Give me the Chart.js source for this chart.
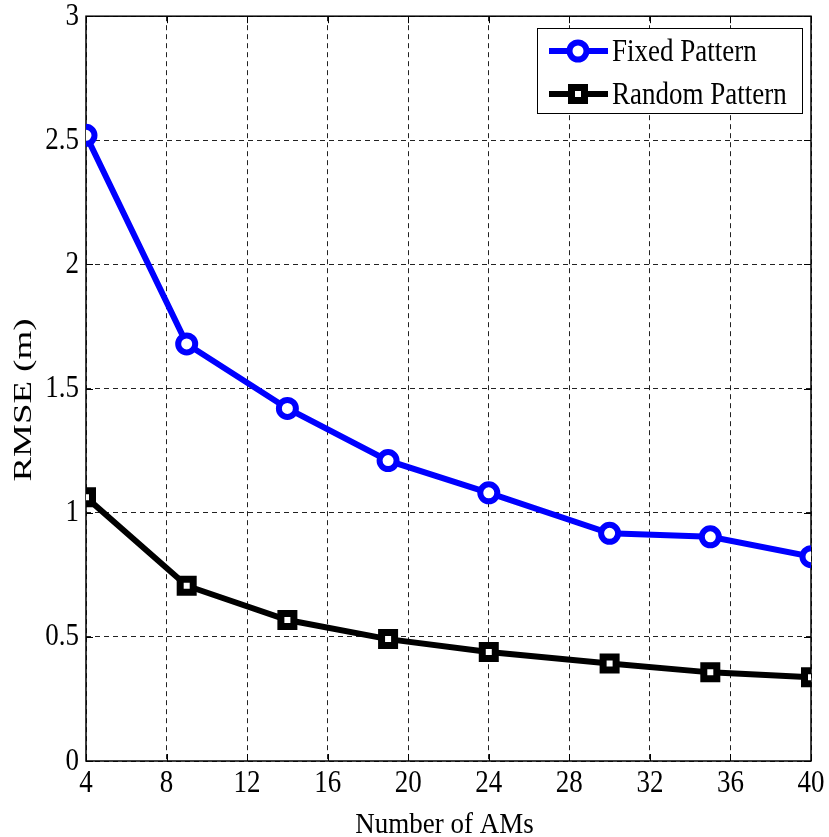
<!DOCTYPE html>
<html>
<head>
<meta charset="utf-8">
<script src="https://cdn.jsdelivr.net/npm/chart.js@4.4.0/dist/chart.umd.min.js"></script>
<style>
html, body { margin: 0; padding: 0; background: #fff; }
#wrap { width: 829px; height: 837px; }
</style>
</head>
<body>
<div id="wrap"><canvas id="chart_rmse"></canvas></div>
<script>
// values
var numberOfAMs = [4, 9, 14, 19, 24, 30, 35, 40];
var fixedPattern = [2.52, 1.68, 1.42, 1.21, 1.08, 0.917, 0.903, 0.823];
var randomPattern = [1.062, 0.706, 0.568, 0.491, 0.439, 0.393, 0.357, 0.337];
var seriesLabels = ['Fixed Pattern', 'Random Pattern'];
var xTickLabels = ['4', '8', '12', '16', '20', '24', '28', '32', '36', '40'];
var yTickLabels = ['0', '0.5', '1', '1.5', '2', '2.5', '3'];
var xTitle = 'Number of AMs';
var yTitle = 'RMSE (m)';

var serif = "'Liberation Serif', 'Times New Roman', serif";
// the source figure has its text stretched vertically
var stretch = 1.2;

function toPoints(ys) {
    return numberOfAMs.map(function (x, i) { return { x: x, y: ys[i] }; });
}

function tallText(ctx, text, x, y, align, size, sy, angle) {
    ctx.save();
    ctx.translate(x, y);
    if (angle) ctx.rotate(angle);
    ctx.scale(angle ? sy : 1, angle ? 1 : sy);
    ctx.font = size + 'px ' + serif;
    ctx.fillStyle = '#000';
    ctx.textAlign = align;
    ctx.textBaseline = 'middle';
    ctx.fillText(text, 0, 0);
    ctx.restore();
}

var frameAndLabels = {
    id: 'frameAndLabels',
    beforeDatasetsDraw: function (chart) {
        var ctx = chart.ctx, a = chart.chartArea;
        var xs = chart.scales.x, ys = chart.scales.y;
        ctx.save();
        ctx.setLineDash([]);
        ctx.strokeStyle = '#000';
        ctx.lineWidth = 1;
        xs.ticks.forEach(function (t) {
            var px = Math.round(xs.getPixelForValue(t.value)) + 0.5;
            ctx.beginPath();
            ctx.moveTo(px, a.top); ctx.lineTo(px, a.top + 7);
            ctx.moveTo(px, a.bottom); ctx.lineTo(px, a.bottom - 7);
            ctx.stroke();
            tallText(ctx, t.label, xs.getPixelForValue(t.value), a.bottom + 22, 'center', 27, stretch);
        });
        ys.ticks.forEach(function (t) {
            var py = Math.round(ys.getPixelForValue(t.value)) + 0.5;
            ctx.beginPath();
            ctx.moveTo(a.left, py); ctx.lineTo(a.left + 7, py);
            ctx.moveTo(a.right, py); ctx.lineTo(a.right - 7, py);
            ctx.stroke();
            tallText(ctx, t.label, a.left - 7, ys.getPixelForValue(t.value), 'right', 27, stretch);
        });
        ctx.lineWidth = 1.5;
        ctx.strokeRect(a.left, a.top, a.right - a.left, a.bottom - a.top);
        tallText(ctx, xTitle, (a.left + a.right) / 2 - 4, 825, 'center', 27, 1.12);
        tallText(ctx, yTitle, 24, 400, 'center', 26, 1.42, -Math.PI / 2);
        ctx.restore();
    }
};

var boxLegend = {
    id: 'boxLegend',
    afterDraw: function (chart) {
        var ctx = chart.ctx;
        var bx = 537, by = 28, bw = 265, bh = 85;
        ctx.save();
        ctx.setLineDash([]);
        ctx.fillStyle = '#fff';
        ctx.fillRect(bx, by, bw, bh);
        ctx.strokeStyle = '#000';
        ctx.lineWidth = 1;
        ctx.strokeRect(bx + 0.5, by + 0.5, bw, bh);
        chart.data.datasets.forEach(function (ds, i) {
            var cy = by + 23 + i * 43;
            ctx.strokeStyle = ds.borderColor;
            ctx.lineWidth = ds.borderWidth;
            ctx.beginPath();
            ctx.moveTo(549, cy); ctx.lineTo(608, cy);
            ctx.stroke();
            ctx.fillStyle = ds.pointBackgroundColor;
            ctx.strokeStyle = ds.pointBorderColor;
            ctx.lineWidth = ds.pointBorderWidth;
            Chart.helpers.drawPoint(ctx, { pointStyle: ds.pointStyle, radius: ds.pointRadius, rotation: 0, borderWidth: ds.pointBorderWidth }, 578, cy);
            tallText(ctx, ds.label, 612, cy + 1, 'left', 27, stretch);
        });
        ctx.restore();
    }
};

var chart_rmse = new Chart(document.getElementById('chart_rmse'), {
    type: 'line',
    data: {
        datasets: [
            {
                label: seriesLabels[0],
                data: toPoints(fixedPattern),
                borderColor: '#0000ff',
                borderWidth: 6,
                pointStyle: 'circle',
                pointRadius: 8.5,
                pointBorderWidth: 6,
                pointBorderColor: '#0000ff',
                pointBackgroundColor: '#fff'
            },
            {
                label: seriesLabels[1],
                data: toPoints(randomPattern),
                borderColor: '#000',
                borderWidth: 6,
                pointStyle: 'rect',
                pointRadius: 9.2,
                pointBorderWidth: 7,
                pointBorderColor: '#000',
                pointBackgroundColor: '#fff'
            }
        ]
    },
    options: {
        animation: false,
        responsive: true,
        maintainAspectRatio: false,
        layout: { padding: { left: 0, right: 18, top: 16, bottom: 0 } },
        plugins: {
            legend: { display: false },
            tooltip: { enabled: false }
        },
        scales: {
            x: {
                type: 'linear',
                min: 4,
                max: 40,
                afterFit: function (s) { s.height = 76; },
                ticks: {
                    display: false,
                    stepSize: 4,
                    callback: function (v, i) { return xTickLabels[i]; }
                },
                grid: { color: '#222', lineWidth: 1, drawTicks: false },
                border: { display: false, dash: [5, 4] }
            },
            y: {
                type: 'linear',
                min: 0,
                max: 3,
                afterFit: function (s) { s.width = 86; },
                ticks: {
                    display: false,
                    stepSize: 0.5,
                    callback: function (v, i) { return yTickLabels[i]; }
                },
                grid: { color: '#222', lineWidth: 1, drawTicks: false },
                border: { display: false, dash: [5, 4] }
            }
        }
    },
    plugins: [frameAndLabels, boxLegend]
});
</script>
</body>
</html>
